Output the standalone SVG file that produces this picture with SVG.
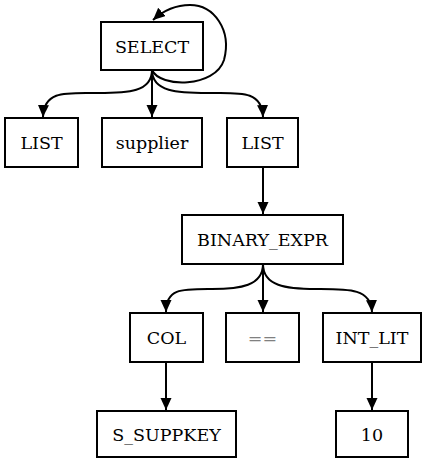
<svg xmlns="http://www.w3.org/2000/svg" width="426" height="465" viewBox="0 0 426 465">
  <style>
    .node rect { fill: #ffffff; stroke: #000000; stroke-width: 2; }
    .node text { font-family: "DejaVu Serif", "Liberation Serif", serif; font-size: 17.5px; text-anchor: middle; fill: #000000; }
    .node text.op { fill: #808080; }
    .edge { fill: none; stroke: #000000; stroke-width: 2; marker-end: url(#arrow); }
  </style>
  <defs>
    <marker id="arrow" markerUnits="userSpaceOnUse" markerWidth="14" markerHeight="12" refX="12" refY="5.5" orient="auto">
      <path d="M0,0 L12,5.5 L0,11 Z" fill="#000000"/>
    </marker>
  </defs>
  <rect x="0" y="0" width="426" height="465" fill="#ffffff"/>

  <g id="connectors">
    <!-- SELECT self loop -->
    <path class="edge" d="M152,70 C160,88 215,88 224,60 C232,30 214,5 190,5 C175,5 164,10 153,20"/>
    <!-- SELECT children -->
    <path class="edge" d="M152,70 C152,92 128,93 98,93 C66,93 44,90 43,117"/>
    <path class="edge" d="M152,70 L152,117"/>
    <path class="edge" d="M152,70 C152,92 178,93 208,93 C240,93 262,90 263,117"/>
    <!-- LIST to BINARY_EXPR -->
    <path class="edge" d="M263,167 L263,214"/>
    <!-- BINARY_EXPR children -->
    <path class="edge" d="M263,264 C263,286 240,289 212,289 C182,289 166,288 166,312"/>
    <path class="edge" d="M263,264 L263,312"/>
    <path class="edge" d="M263,264 C263,286 286,289 316,289 C348,289 371,288 372,312"/>
    <!-- leaves -->
    <path class="edge" d="M166,362 L166,410"/>
    <path class="edge" d="M372,362 L372,410"/>
  </g>

  <g id="select" class="node">
    <rect x="101" y="22" width="102" height="48"/>
    <text x="152" y="52.5">SELECT</text>
  </g>
  <g id="list1" class="node">
    <rect x="5" y="118" width="73" height="49"/>
    <text x="41.5" y="149">LIST</text>
  </g>
  <g id="supplier" class="node">
    <rect x="102" y="118" width="100" height="49"/>
    <text x="152" y="149">supplier</text>
  </g>
  <g id="list2" class="node">
    <rect x="227" y="118" width="71" height="49"/>
    <text x="262.5" y="149">LIST</text>
  </g>
  <g id="binary_expr" class="node">
    <rect x="182" y="215" width="161" height="49"/>
    <text x="262.5" y="246">BINARY_EXPR</text>
  </g>
  <g id="col" class="node">
    <rect x="130" y="313" width="73" height="49"/>
    <text x="166.5" y="344">COL</text>
  </g>
  <g id="eq" class="node">
    <rect x="226" y="313" width="73" height="49"/>
    <text class="op" x="262.5" y="344">==</text>
  </g>
  <g id="int_lit" class="node">
    <rect x="323" y="313" width="98" height="49"/>
    <text x="372" y="344">INT_LIT</text>
  </g>
  <g id="s_suppkey" class="node">
    <rect x="97" y="411" width="139" height="46"/>
    <text x="166.5" y="440.5">S_SUPPKEY</text>
  </g>
  <g id="ten" class="node">
    <rect x="336" y="411" width="72" height="46"/>
    <text x="372" y="440.5">10</text>
  </g>
</svg>
